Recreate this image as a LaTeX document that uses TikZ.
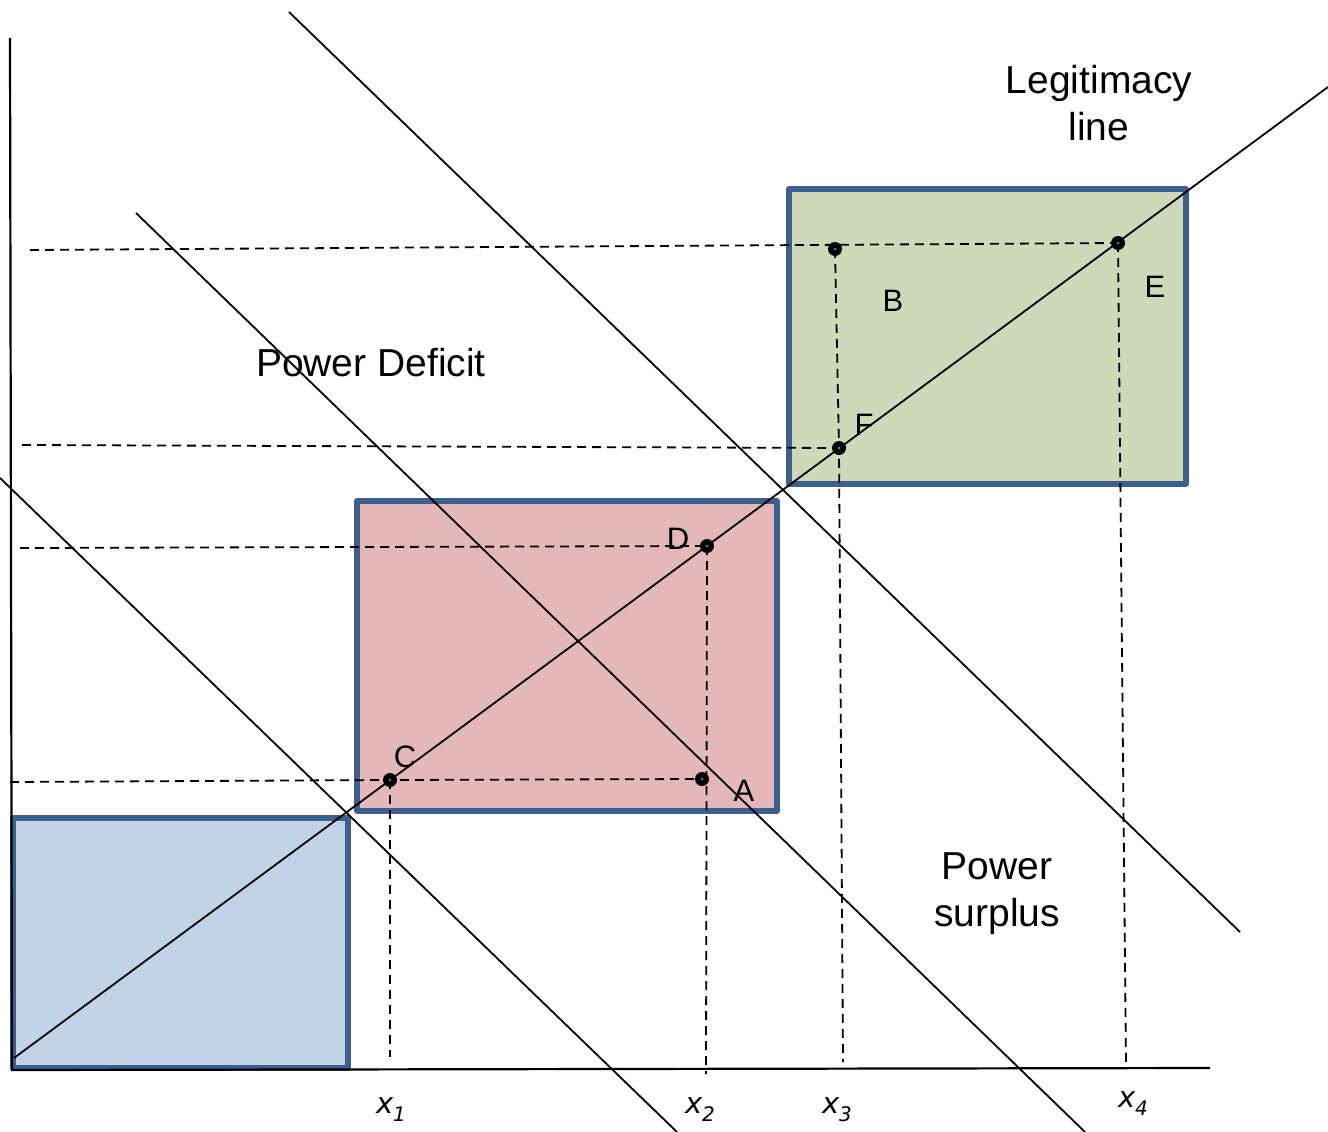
\documentclass[tikz,border=0pt]{standalone}
\usepackage{fontspec}
\setmainfont{Liberation Sans}
\newfontfamily\djv{DejaVu Sans}
\definecolor{boxblue}{HTML}{3C5F8E}
\definecolor{fillblue}{HTML}{C0D3E7}
\definecolor{fillred}{HTML}{E4B8B8}
\definecolor{fillgreen}{HTML}{CFD8B9}
\definecolor{dotcore}{HTML}{4A78C0}
\begin{document}
\begin{tikzpicture}[x=1pt,y=-1pt,
  thinline/.style={line width=1.8pt, black},
  axisline/.style={line width=2.2pt, black},
  dashline/.style={line width=1.8pt, black, dash pattern=on 9pt off 6pt},
  boxstyle/.style={draw=boxblue, line width=5.5pt, line join=round},
  dotnode/.style={circle, fill=black, inner sep=0pt, minimum size=14pt},
  lbl/.style={font=\fontsize{31}{31}\selectfont, inner sep=0pt},
  bigtxt/.style={font=\fontsize{39}{47}\selectfont, align=center, inner sep=0pt},
  xlbl/.style={font=\djv\itshape\fontsize{29}{29}\selectfont, inner sep=0pt}
]
\useasboundingbox (0,0) rectangle (1328,1132);

% boxes
\draw[boxstyle, fill=fillblue] (13,818) rectangle (348,1068);
\draw[boxstyle, fill=fillred] (357,501) rectangle (777,811);
\draw[boxstyle, fill=fillgreen] (789,189) rectangle (1186,484);

% axes
\coordinate (ytop) at (10,38);
\coordinate (origin) at (12,1070);
\coordinate (xend) at (1210,1068);
\draw[axisline] (ytop) -- (origin) -- (xend);

% descending lines
\coordinate (d1a) at (0,478);   \coordinate (d1b) at (677,1132);
\coordinate (d2a) at (136,213); \coordinate (d2b) at (1085,1132);
\coordinate (d3a) at (289,12);  \coordinate (d3b) at (1240,932);
\draw[thinline] (d1a) -- (d1b);
\draw[thinline] (d2a) -- (d2b);
\draw[thinline] (d3a) -- (d3b);

% legitimacy line
\coordinate (L0) at (14,1058);
\coordinate (L1) at (1328,87);
\draw[thinline] (L0) -- (L1);

% dot positions
\coordinate (pC) at (390,780);
\coordinate (pD) at (707,546);
\coordinate (pF) at (839,448);
\coordinate (pE) at (1118,243);
\coordinate (pB) at (835,249);
\coordinate (pA) at (702,779);

% dashed helper end points
\coordinate (hE) at (30,250);
\coordinate (hF) at (22,445);
\coordinate (hD) at (20,548);
\coordinate (hC) at (10,782);
\coordinate (v1) at (390,1057);
\coordinate (v2) at (706,1074);
\coordinate (v3) at (843,1062);
\coordinate (v4) at (1126,1065);

\draw[dashline] (hE) -- (pE);
\draw[dashline] (hF) -- (pF);
\draw[dashline] (hD) -- (pD);
\draw[dashline] (hC) -- (pC) -- (pA);
\draw[dashline] (pC) -- (v1);
\draw[dashline] (pD) -- (v2);
\draw[dashline] (pB) -- (pF) -- (v3);
\draw[dashline] (pE) -- (v4);

% dots
\foreach \p in {pC,pD,pF,pE,pB,pA}{
  \node[dotnode] (n\p) at (\p) {};
  \fill[dotcore] (\p) circle (1.5pt);
}

% letters
\node[lbl] (tB) at (893,301) {B};
\node[lbl] (tE) at (1155,287) {E};
\node[lbl] (tF) at (864,425) {F};
\node[lbl] (tD) at (678,539) {D};
\node[lbl] (tC) at (405,757) {C};
\node[lbl] (tA) at (744,791) {A};

% big texts
\node[bigtxt] (legit) at (1099,103) {Legitimacy\\line};
\node[bigtxt] (deficit) at (371,363) {Power Deficit};
\node[bigtxt] (surplus) at (997,894) {Power\\surplus};

% x labels
\node[xlbl] (x1) at (391,1110) {x\raisebox{-8pt}{\fontsize{20}{20}\selectfont 1}};
\node[xlbl] (x2) at (700,1110) {x\raisebox{-8pt}{\fontsize{20}{20}\selectfont 2}};
\node[xlbl] (x3) at (837,1110) {x\raisebox{-8pt}{\fontsize{20}{20}\selectfont 3}};
\node[xlbl] (x4) at (1133,1104) {x\raisebox{-8pt}{\fontsize{20}{20}\selectfont 4}};
\end{tikzpicture}
\end{document}
